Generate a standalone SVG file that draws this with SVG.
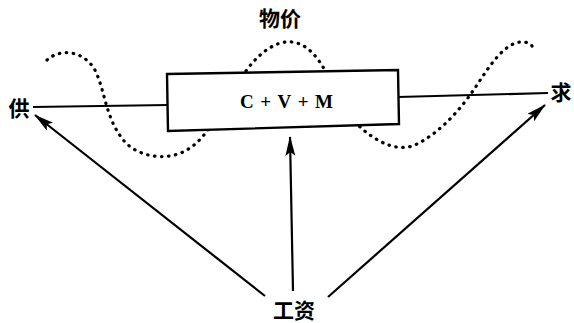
<svg xmlns="http://www.w3.org/2000/svg" width="574" height="323" viewBox="0 0 574 323">
<style>
.ln{stroke:#000;stroke-width:2.2;fill:none}
.dot{stroke:#000;stroke-width:3.2;fill:none;stroke-dasharray:0.5 6.5;stroke-linecap:round}
.zh{font-family:"Noto Sans CJK SC","Noto Sans CJK JP",sans-serif;font-weight:bold;font-size:21px;fill:#000}
.f{font-family:"Liberation Serif",serif;font-weight:bold;font-size:19px;fill:#000}
</style>
<defs>
<marker id="ah" viewBox="0 0 20 10" refX="19" refY="5" markerWidth="20" markerHeight="10" markerUnits="userSpaceOnUse" orient="auto">
<path d="M0,0 L20,5 L0,10 L4,5 Z" fill="#000"/>
</marker>
</defs>
<g id="wave">
<path class="dot" d="M47,60 C60,48 85,50 96,72 C106,95 106,120 125,142 C140,158 170,162 190,148 C205,138 215,120 240,80 C255,55 275,40 292,42 C308,44 318,58 326,72 C340,100 350,120 366,132 C380,143 398,152 415,145 C440,133 460,110 475,88 C490,65 505,42 522,42 C528,42 531,44 532,46"/>
</g>
<g id="connectors">
<line class="ln" x1="33" y1="107" x2="168" y2="105"/>
<line class="ln" x1="398" y1="97" x2="548" y2="93"/>
<line class="ln" x1="265" y1="296" x2="35" y2="115" marker-end="url(#ah)"/>
<line class="ln" x1="293" y1="291" x2="290" y2="137" marker-end="url(#ah)"/>
<line class="ln" x1="328" y1="297" x2="545" y2="105" marker-end="url(#ah)"/>
</g>
<g id="box">
<path d="M167,74 L398,70 L399,124 L168,131 Z" fill="#fff" stroke="#000" stroke-width="2.4"/>
<text class="f" x="240" y="108" textLength="93" lengthAdjust="spacing">C+V+M</text>
</g>
<g id="label-wujia"><text class="zh" x="280" y="26" text-anchor="middle">物价</text></g>
<g id="label-gong"><text class="zh" x="19" y="116" text-anchor="middle">供</text></g>
<g id="label-qiu"><text class="zh" x="561" y="100" text-anchor="middle">求</text></g>
<g id="label-gongzi"><text class="zh" x="294" y="318" text-anchor="middle">工资</text></g>
</svg>
